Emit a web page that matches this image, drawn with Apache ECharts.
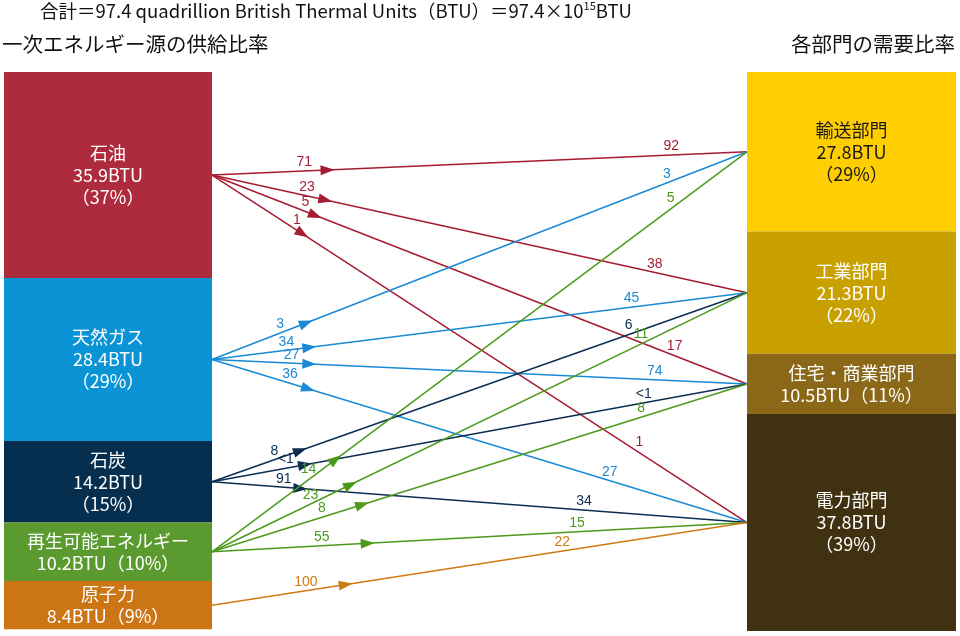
<!DOCTYPE html>
<html><head><meta charset="utf-8">
<script src="https://cdn.jsdelivr.net/npm/echarts@6/dist/echarts.min.js"></script>
<style>html,body{margin:0;padding:0;background:#fff}#c{width:960px;height:636px}</style>
</head><body><div id="c"></div>
<script>
// ---- data ----
const sources = ['石油', '天然ガス', '石炭', '再生可能エネルギー', '原子力'];
const sourceBTU = [35.9, 28.4, 14.2, 10.2, 8.4];
const sourceShare = ['37%', '29%', '15%', '10%', '9%'];
const sectors = ['輸送部門', '工業部門', '住宅・商業部門', '電力部門'];
const sectorBTU = [27.8, 21.3, 10.5, 37.8];
const sectorShare = ['29%', '22%', '11%', '39%'];
const linkSource = [0, 0, 0, 0, 1, 1, 1, 1, 2, 2, 2, 3, 3, 3, 3, 4];
const linkTarget = [0, 1, 2, 3, 0, 1, 2, 3, 1, 2, 3, 0, 1, 2, 3, 3];
const pctOfSource = ['71', '23', '5', '1', '3', '34', '27', '36', '8', '<1', '91', '14', '23', '8', '55', '100'];
const pctOfSector = ['92', '38', '17', '1', '3', '45', '74', '27', '6', '<1', '34', '5', '11', '8', '15', '22'];
const totalBTU = 97.4;

// ---- layout / style (not data) ----
const sourceColors = ['#AE2B3E', '#0A94D6', '#062F4F', '#5A9A2F', '#CC7515'];
const sourceLineColors = ['#A61C31', '#1A8AD6', '#0B2E52', '#4C9A1C', '#D07A12'];
const sectorColors = ['#FFCE00', '#C8A000', '#8A6818', '#403211'];
const sectorTextColors = ['#1a1a1a', '#ffffff', '#ffffff', '#ffffff'];
const arrowT = [0.216, 0.212, 0.193, 0.169, 0.176, 0.182, 0.182, 0.18, 0.165, 0.174, 0.165, 0.231, 0.259, 0.281, 0.291, 0.25];
const leftLabelT = [0.173, 0.174, 0.169, 0.15, 0.133, 0.141, 0.148, 0.141, 0.122, 0.141, 0.133, 0.19, 0.191, 0.21, 0.206, 0.178];
const rightLabelT = [0.859, 0.824, 0.859, 0.79, 0.856, 0.786, 0.827, 0.739, 0.784, 0.81, 0.694, 0.867, 0.809, 0.807, 0.683, 0.657];
const LEFT_X0 = 4, LEFT_X1 = 212, RIGHT_X0 = 747, RIGHT_X1 = 956;

// build box list from data
const boxes = [];
let acc = 0;
sources.forEach((s, i) => {
  boxes.push({x0: LEFT_X0, x1: LEFT_X1, y0: acc, y1: acc + sourceBTU[i], name: s,
    btu: sourceBTU[i], share: sourceShare[i], color: sourceColors[i], text: '#ffffff'});
  acc += sourceBTU[i];
});
const srcCenter = boxes.map(b => (b.y0 + b.y1) / 2);
acc = 0;
const tgtCenter = [];
sectors.forEach((s, i) => {
  boxes.push({x0: RIGHT_X0, x1: RIGHT_X1, y0: acc, y1: acc + sectorBTU[i], name: s,
    btu: sectorBTU[i], share: sectorShare[i], color: sectorColors[i], text: sectorTextColors[i]});
  tgtCenter.push(acc + sectorBTU[i] / 2);
  acc += sectorBTU[i];
});

const chart = echarts.init(document.getElementById('c'));
const labelFont = '14px "Liberation Sans", Arial, sans-serif';
const boxFont = '18px "Noto Sans CJK JP", sans-serif';

chart.setOption({
  animation: false,
  grid: {left: 0, right: 0, top: 72, bottom: 5},
  xAxis: {type: 'value', min: 0, max: 960, show: false},
  yAxis: {type: 'value', min: 0, max: totalBTU, inverse: true, show: false},
  graphic: [
    {type: 'text', left: 40, top: 0, style: {
      text: '合計＝97.4 quadrillion British Thermal Units（BTU）＝97.4×10{sup|15}BTU',
      font: '18.5px "Noto Sans CJK JP", sans-serif', fill: '#111',
      rich: {sup: {font: '11px "Noto Sans CJK JP", sans-serif', fill: '#111', verticalAlign: 'top', padding: [0, 0, 10, 0]}}
    }},
    {type: 'text', left: 2, top: 34, style: {text: '一次エネルギー源の供給比率', font: '20.5px "Noto Sans CJK JP", sans-serif', fill: '#111'}},
    {type: 'text', right: 5, top: 34, style: {text: '各部門の需要比率', font: '20.5px "Noto Sans CJK JP", sans-serif', fill: '#111'}}
  ],
  series: [
    {
      type: 'custom', coordinateSystem: 'cartesian2d', silent: true,
      data: boxes.map((b, i) => [i, 0]),
      encode: {x: 0, y: 1},
      renderItem: function (params, api) {
        const b = boxes[params.dataIndex];
        const p0 = api.coord([b.x0, b.y0]);
        const p1 = api.coord([b.x1, b.y1]);
        const h = p1[1] - p0[1];
        const txt = h < 75 ? `${b.name}\n${b.btu}BTU（${b.share}）` : `${b.name}\n${b.btu}BTU\n（${b.share}）`;
        return {type: 'group', children: [
          {type: 'rect', shape: {x: p0[0], y: p0[1], width: p1[0] - p0[0], height: h}, style: {fill: b.color}},
          {type: 'text', x: (p0[0] + p1[0]) / 2, y: (p0[1] + p1[1]) / 2,
            style: {text: txt, fill: b.text, font: boxFont, align: 'center', verticalAlign: 'middle', lineHeight: 22}}
        ]};
      }
    },
    {
      type: 'custom', coordinateSystem: 'cartesian2d', silent: true,
      data: linkSource.map((s, i) => [i, 0]),
      encode: {x: 0, y: 1},
      renderItem: function (params, api) {
        const i = params.dataIndex;
        const s = linkSource[i], t = linkTarget[i];
        const c = sourceLineColors[s];
        const p0 = api.coord([LEFT_X1, srcCenter[s]]);
        const p1 = api.coord([RIGHT_X0, tgtCenter[t]]);
        const dx = p1[0] - p0[0], dy = p1[1] - p0[1];
        const len = Math.sqrt(dx * dx + dy * dy);
        const ux = dx / len, uy = dy / len;
        const nx = uy, ny = -ux; // upward normal
        const at = (f) => [p0[0] + dx * f, p0[1] + dy * f];
        const pa = at(arrowT[i]);
        const L = 7, W = 5;
        const tri = [
          [pa[0] + ux * L, pa[1] + uy * L],
          [pa[0] - ux * L + nx * W, pa[1] - uy * L + ny * W],
          [pa[0] - ux * L - nx * W, pa[1] - uy * L - ny * W]
        ];
        const off = 8.5;
        const pl = at(leftLabelT[i]);
        const pr = at(rightLabelT[i]);
        return {type: 'group', children: [
          {type: 'line', shape: {x1: p0[0], y1: p0[1], x2: p1[0], y2: p1[1]}, style: {stroke: c, lineWidth: 1.5}},
          {type: 'polygon', shape: {points: tri}, style: {fill: c}},
          {type: 'text', x: pl[0] + nx * off, y: pl[1] + ny * off,
            style: {text: pctOfSource[i], fill: c, font: labelFont, align: 'center', verticalAlign: 'middle'}},
          {type: 'text', x: pr[0] + nx * off, y: pr[1] + ny * off,
            style: {text: pctOfSector[i], fill: c, font: labelFont, align: 'center', verticalAlign: 'middle'}}
        ]};
      }
    }
  ]
});
</script>
</body></html>
